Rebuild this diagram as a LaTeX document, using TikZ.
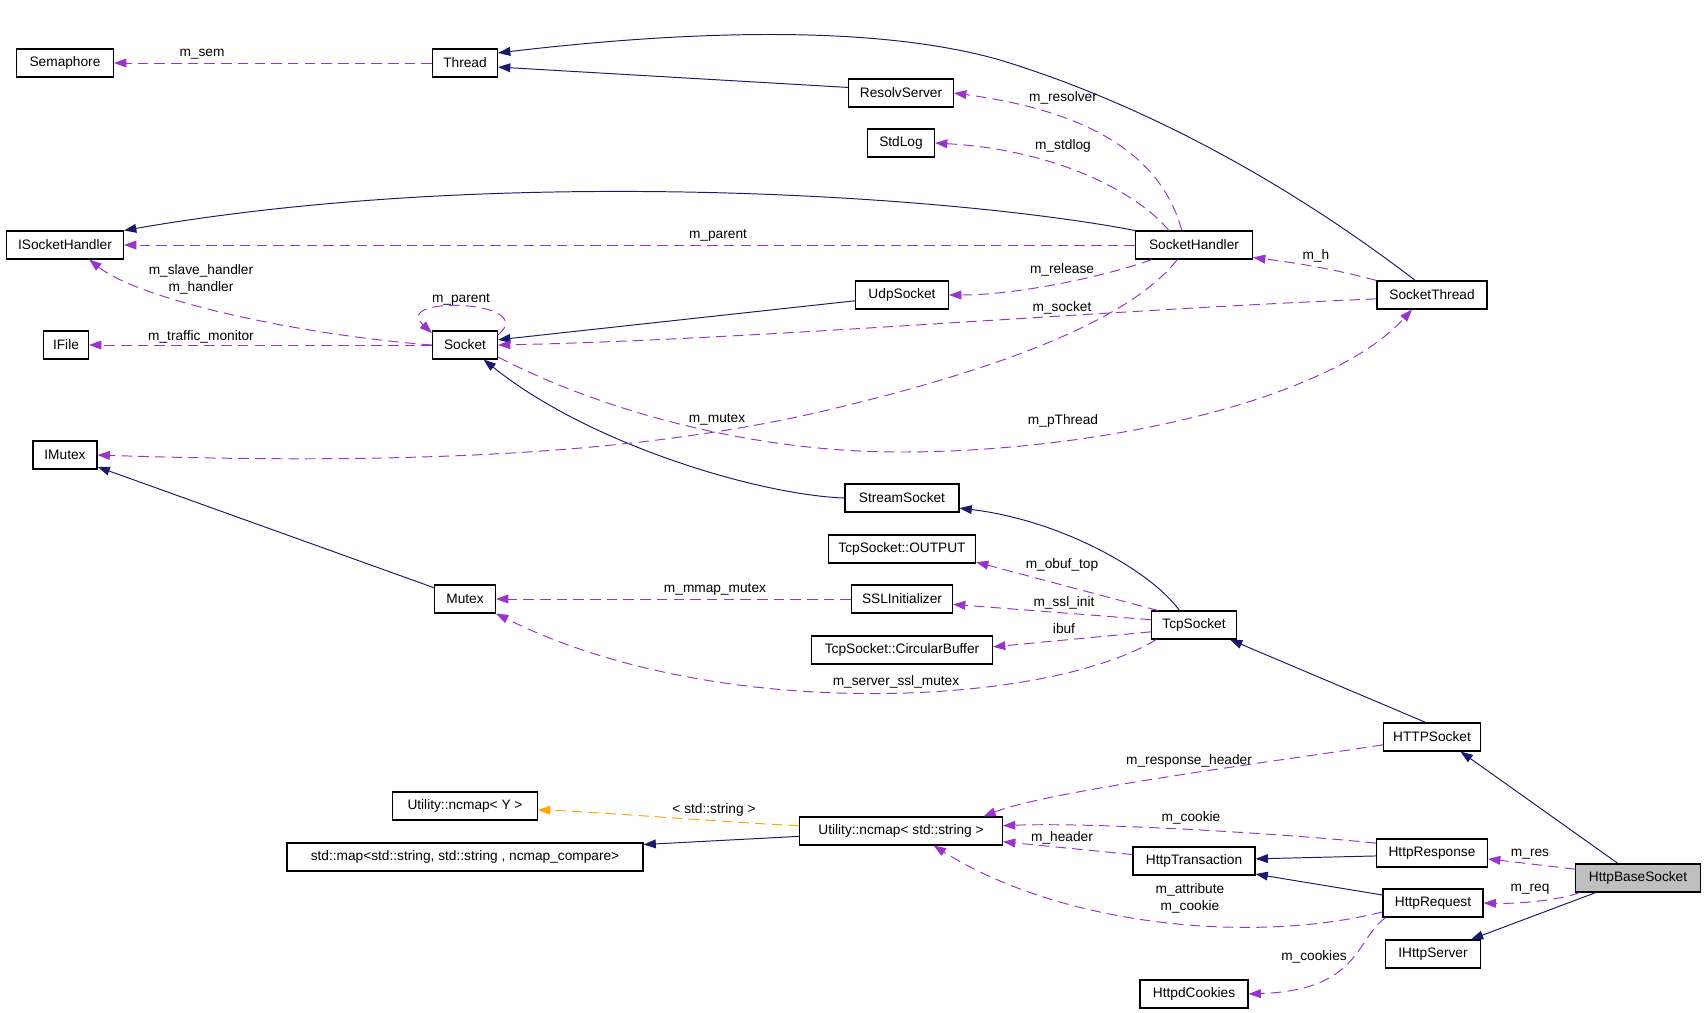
\documentclass[tikz,border=0pt]{standalone}
\usepackage{fontspec}
\setmainfont{Liberation Sans}
\usetikzlibrary{arrows.meta}
\definecolor{dxnavy}{RGB}{25,25,112}
\definecolor{dxpurple}{RGB}{154,50,205}
\definecolor{dxorange}{RGB}{255,165,0}
\definecolor{dxgray}{RGB}{191,191,191}

\begin{document}
\begin{tikzpicture}[x=0.02cm,y=-0.02cm,
  cls/.style={draw,line width=0.6pt,minimum width=#1*0.02cm,minimum height=0.56cm,inner sep=0pt,font=\fontsize{7.8}{9}\selectfont},
  lbl/.style={inner sep=0pt,align=center,font=\fontsize{7.8}{9.7}\selectfont},
  inherit/.style={-{Triangle[length=7pt,width=5pt]},dxnavy,line width=0.55pt},
  member/.style={-{Triangle[length=7pt,width=5pt]},dxpurple,line width=0.55pt,dash pattern=on 6pt off 3.5pt},
  tmpl/.style={member,dxorange}]
  \fill[white] (0,0) rectangle (1707,1012);
  \useasboundingbox (0,0) rectangle (1707,1012);
  % Classes
  \node[cls=97] (sem) at (65,63) {Semaphore};
  \node[cls=65] (thr) at (465,63) {Thread};
  \node[cls=105] (rsv) at (901,93) {ResolvServer};
  \node[cls=67] (slog) at (901,143) {StdLog};
  \node[cls=117] (ish) at (65,245) {ISocketHandler};
  \node[cls=117] (sh) at (1194,245) {SocketHandler};
  \node[cls=93] (udp) at (902,295) {UdpSocket};
  \node[cls=110] (sth) at (1432,295) {SocketThread};
  \node[cls=45] (ifile) at (66,345) {IFile};
  \node[cls=65] (sock) at (465,345) {Socket};
  \node[cls=64] (imx) at (65,455) {IMutex};
  \node[cls=114] (ss) at (902,498) {StreamSocket};
  \node[cls=147] (out) at (902,549) {TcpSocket::OUTPUT};
  \node[cls=61] (mtx) at (465,599) {Mutex};
  \node[cls=101] (ssl) at (902,599) {SSLInitializer};
  \node[cls=181] (cb) at (902,650) {TcpSocket::CircularBuffer};
  \node[cls=85] (tcp) at (1194,625) {TcpSocket};
  \node[cls=97] (https) at (1432,737) {HTTPSocket};
  \node[cls=145] (ncy) at (465,806) {Utility::ncmap< Y >};
  \node[cls=203] (ncs) at (901,831) {Utility::ncmap< std::string >};
  \node[cls=356] (smap) at (465,857) {std::map<std::string, std::string , ncmap\_compare>};
  \node[cls=111] (hres) at (1432,853) {HttpResponse};
  \node[cls=122] (htr) at (1194,861) {HttpTransaction};
  \node[cls=125,fill=dxgray] (hbs) at (1638,878) {HttpBaseSocket};
  \node[cls=100] (hreq) at (1433,903) {HttpRequest};
  \node[cls=95] (ihs) at (1433,954) {IHttpServer};
  \node[cls=108] (hck) at (1194,994) {HttpdCookies};
  % Inheritance
  \draw[inherit] (sth.139) .. controls (1330,215) and (1180,115) .. (1000,60)
    .. controls (860,20) and (650,35) .. (thr.17);
  \draw[inherit] (rsv.174) -- (thr.-7);
  \draw[inherit] (sh.north west) .. controls (950,195) and (500,165) .. (ish.north east);
  \draw[inherit] (udp.187) -- (sock.9);
  \draw[inherit] (ss.west) .. controls (760,495) and (590,445) .. (sock.-38);
  \draw[inherit] (mtx.160) -- (imx.-20);
  \draw[inherit] (tcp.135) .. controls (1150,570) and (1060,520) .. (ss.-10);
  \draw[inherit] (https.113) -- (tcp.-22);
  \draw[inherit] (hbs.144) -- (https.-27);
  \draw[inherit] (hres.183) -- (htr.2);
  \draw[inherit] (hreq.171) -- (htr.-12);
  \draw[inherit] (hbs.199) -- (ihs.21);
  \draw[inherit] (ncs.183) -- (smap.4);
  % Members
  \draw[member] (thr) -- (sem);
  \node[lbl] (l-sem) at (202,54) {m\_sem};
  \draw[member] (sh.130) .. controls (1160,150) and (1080,110) .. (rsv.east);
  \node[lbl] (l-resolver) at (1063,98) {m\_resolver};
  \draw[member] (sh.150) .. controls (1140,195) and (1060,150) .. (slog.east);
  \node[lbl] (l-stdlog) at (1063,146) {m\_stdlog};
  \draw[member] (sh) -- (ish);
  \node[lbl] (l-parent) at (718,235) {m\_parent};
  \draw[member] (sock.west) .. controls (300,335) and (140,300) .. (ish.-31);
  \node[lbl] (l-handler) at (201,279) {m\_slave\_handler\\m\_handler};
  \draw[member] (sock.17) .. controls (540,300) and (390,295) .. (sock.160);
  \node[lbl] (l-sparent) at (461,299) {m\_parent};
  \draw[member] (sock) -- (ifile);
  \node[lbl] (l-traffic) at (201,337) {m\_traffic\_monitor};
  \draw[member] (sh.199) .. controls (1110,275) and (1020,295) .. (udp.east);
  \node[lbl] (l-release) at (1062,270) {m\_release};
  \draw[member] (sth.184) .. controls (1100,310) and (750,340) .. (sock.east);
  \node[lbl] (l-socket) at (1062,308) {m\_socket};
  \draw[member] (sth.north west) .. controls (1330,268) and (1290,262) .. (sh.-12);
  \node[lbl] (l-h) at (1316,256) {m\_h};
  \draw[member] (sh.221) .. controls (1130,320) and (1000,370) .. (815,413)
    .. controls (630,455) and (400,465) .. (imx.east);
  \node[lbl] (l-mutex) at (717,419) {m\_mutex};
  \draw[member] (sock.-20) .. controls (600,410) and (750,452) .. (900,452)
    .. controls (1100,452) and (1330,400) .. (sth.216);
  \node[lbl] (l-pthread) at (1063,421) {m\_pThread};
  \draw[member] (ssl) -- (mtx);
  \node[lbl] (l-mmap) at (715,589) {m\_mmap\_mutex};
  \draw[member] (tcp.201) .. controls (1050,705) and (720,725) .. (mtx.south east);
  \node[lbl] (l-sslmutex) at (896,682) {m\_server\_ssl\_mutex};
  \draw[member] (tcp.158) -- (out.-10);
  \node[lbl] (l-obuf) at (1062,565) {m\_obuf\_top};
  \draw[member] (tcp.173) -- (ssl.-6);
  \node[lbl] (l-sslinit) at (1064,603) {m\_ssl\_init};
  \draw[member] (tcp.189) -- (cb.2);
  \node[lbl] (l-ibuf) at (1064,629) {ibuf};
  \draw[member] (https.189) .. controls (1300,758) and (1050,790) .. (ncs.10);
  \node[lbl] (l-resp) at (1189,761) {m\_response\_header};
  \draw[member] (hres.170) .. controls (1300,835) and (1100,822) .. (ncs.3);
  \node[lbl] (l-cookie) at (1191,818) {m\_cookie};
  \draw[member] (htr.174) -- (ncs.-6);
  \node[lbl] (l-header) at (1062,838) {m\_header};
  \draw[member] (hbs.172) -- (hres.-6);
  \node[lbl] (l-res) at (1530,854) {m\_res};
  \draw[member] (hbs.194) .. controls (1560,900) and (1520,904) .. (hreq.east);
  \node[lbl] (l-req) at (1530,889) {m\_req};
  \draw[member] (hreq.190) .. controls (1250,945) and (1060,925) .. (ncs.-24);
  \node[lbl] (l-attr) at (1190,898) {m\_attribute\\m\_cookie};
  \draw[member] (hreq.197) .. controls (1355,940) and (1360,990) .. (hck.east);
  \node[lbl] (l-cookies) at (1314,957) {m\_cookies};
  % Template
  \draw[tmpl] (ncs.177) .. controls (720,822) and (600,812) .. (ncy.-3);
  \node[lbl] (l-tmpl) at (714,810) {< std::string >};
\end{tikzpicture}
\end{document}
